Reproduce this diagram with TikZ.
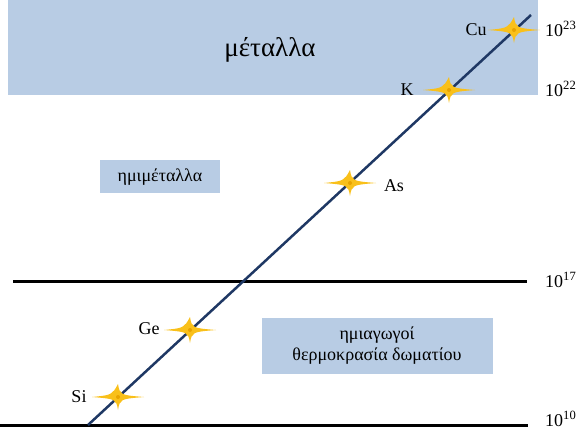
\documentclass[tikz,border=0pt]{standalone}
\usepackage{fontspec}
\setmainfont{Liberation Serif}
\definecolor{bandblue}{HTML}{B8CCE4}
\definecolor{navy}{HTML}{1F3864}
\definecolor{stargold}{HTML}{F9C01A}
\definecolor{starcore}{HTML}{E8A400}
\tikzset{
  band/.style={fill=bandblue, draw=none},
  level/.style={line width=3pt, black},
  lbl/.style={font=\fontsize{18}{20}\selectfont, inner sep=0pt},
  exp/.style={font=\fontsize{18}{20}\selectfont, inner sep=0pt, anchor=base west, text depth=0pt},
  boxtxt/.style={font=\fontsize{18}{21}\selectfont, align=center, inner sep=0pt},
  star/.pic={
    \fill[stargold] (-26,0) .. controls (-6,-2) .. (0,-13)
      .. controls (2,-2) .. (26,0)
      .. controls (2,2) .. (0,13)
      .. controls (-2,2) .. cycle;
    \fill[starcore] (0,0) circle (2);
  }
}
\begin{document}
\begin{tikzpicture}[x=1pt,y=-1pt]
\useasboundingbox (0,0) rectangle (584,431);
% bands
\fill[band] (8,0) rectangle (538,95);
\node[font=\fontsize{27}{30}\selectfont] (metals) at (270,50) {μέταλλα};
\fill[band] (100,160) rectangle (220,193);
\node[boxtxt] (semimet) at (160,177) {ημιμέταλλα};
\fill[band] (262,318) rectangle (493,374);
\node[boxtxt] (semicond) at (377,346) {ημιαγωγοί\\θερμοκρασία δωματίου};
% levels
\coordinate (l17a) at (13,281);
\coordinate (l17b) at (527,281);
\coordinate (l10a) at (0,425);
\coordinate (l10b) at (528,425);
\draw[level] (l17a) -- (l17b);
\draw[level] (l10a) -- (l10b);
\node[exp] (e23) at (545,36) {10\textsuperscript{23}};
\node[exp] (e22) at (545,96) {10\textsuperscript{22}};
\node[exp] (e17) at (545,287) {10\textsuperscript{17}};
\node[exp] (e10) at (545,426) {10\textsuperscript{10}};
% diagonal
\coordinate (d0) at (88,425);
\coordinate (d1) at (531,15);
\draw[navy, line width=2.5pt] (d0) -- (d1);
% stars
\pic at (514,30) {star};
\pic at (449,90) {star};
\pic at (350,183) {star};
\pic at (190,330) {star};
\pic at (118,397) {star};
\node[lbl] (cu) at (476,30) {Cu};
\node[lbl] (k) at (407,90) {K};
\node[lbl] (as) at (394,186) {As};
\node[lbl] (ge) at (149,329) {Ge};
\node[lbl] (si) at (79,397) {Si};
\end{tikzpicture}
\end{document}
